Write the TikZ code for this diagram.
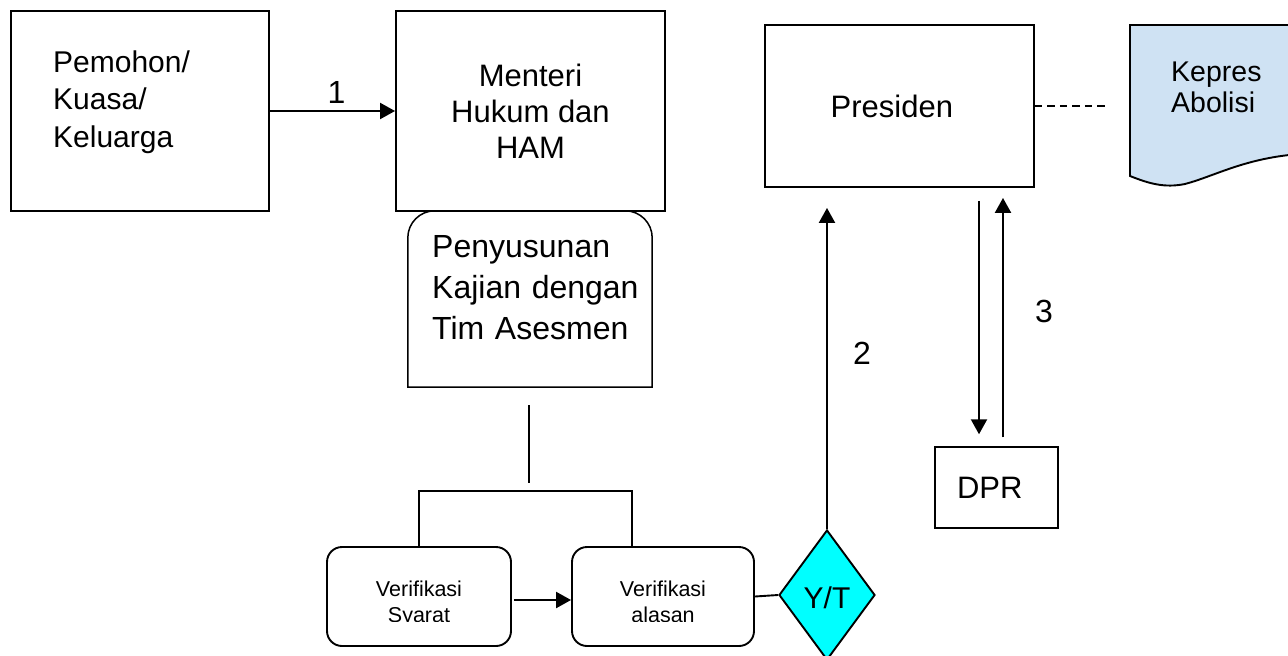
\documentclass[tikz,border=0pt]{standalone}
\usepackage{fontspec}
\setmainfont{Liberation Sans}
\usetikzlibrary{arrows.meta,shapes.geometric}
\definecolor{docblue}{RGB}{207,226,243}
\definecolor{ytcyan}{RGB}{0,255,255}
\begin{document}
\begin{tikzpicture}[x=1pt,y=-1pt,
  box/.style={draw, rectangle, line width=1.9pt, inner sep=0pt},
  vbox/.style={draw, rectangle, rounded corners=15pt, line width=1.9pt, inner sep=0pt},
  txt/.style={inner sep=0pt, text width=260pt, align=left, anchor=base west},
  conn/.style={line width=1.9pt},
  arrow/.style={line width=2.2pt, -{Triangle[length=15pt,width=16pt]}},
  num/.style={inner sep=0pt, font=\fontsize{32}{38}\selectfont},
  big/.style={font=\fontsize{31}{36}\selectfont},
  small/.style={font=\fontsize{21.5}{26}\selectfont}
]
\useasboundingbox (0,0) rectangle (1288,656);
\clip (0,0) rectangle (1288,656);

% applicant and ministry
\node[box, minimum width=258pt, minimum height=200pt] (pemohon) at (140,111) {};
\node[txt, font=\fontsize{30}{37.5}\selectfont] (pemohon-t) at (53,72) {Pemohon/\\Kuasa/\\Keluarga};
\node[box, big, minimum width=269pt, minimum height=200pt, align=center] (menteri) at (530.5,111) {Menteri\\Hukum dan\\HAM};
\draw[arrow] (pemohon) -- node[num, above=6pt, xshift=4pt] (n1) {1} (menteri);

% assessment box with rounded top corners
\node[inner sep=0pt, minimum width=244pt, minimum height=176pt] (penyus) at (530,299) {};
\draw[line width=1.5pt] (penyus.south west) -- ([yshift=-27pt]penyus.north west)
  arc[start angle=180, end angle=90, radius=27pt] -- ([xshift=-27pt]penyus.north east)
  arc[start angle=90, end angle=0, radius=27pt] -- (penyus.south east) -- cycle;
\node[txt, font=\fontsize{32}{41}\selectfont] (penyus-t) at (432,257) {Penyusunan\\Kajian dengan\\Tim Asesmen};

% fork to the two verification steps
\coordinate (fork) at (529,491);
\coordinate (brL) at (419,491);
\coordinate (brR) at (632,491);
\draw[conn, shorten <=18pt, shorten >=8pt] (penyus.south -| fork) -- (fork);

\node[vbox, minimum width=184pt, minimum height=99pt] (syarat) at (419,596.5) {};
\node[vbox, minimum width=182pt, minimum height=99pt] (alasan) at (663,596.5) {};
\draw[conn] (syarat.north) -- (brL) -- (brR) -- (brR |- alasan.north);
\begin{scope}
  \clip (300,540) rectangle (780,621.5);
  \node[small, inner sep=0pt, text width=160pt, align=center, anchor=base] (syarat-t) at (419,596) {Verifikasi\\Syarat};
  \node[small, inner sep=0pt, text width=160pt, align=center, anchor=base] (alasan-t) at (663,596) {Verifikasi\\alasan};
\end{scope}
\draw[arrow, shorten <=2pt] ([yshift=-3.5pt]syarat.east) -- ([yshift=-3.5pt]alasan.west);

% decision
\node[diamond, draw, fill=ytcyan, line width=1.9pt, inner sep=0pt, minimum width=96pt, minimum height=130pt,
      font=\fontsize{30}{36}\selectfont, text height=28pt] (yt) at (827,595) {Y/T};
\draw[conn] (alasan.east) -- (yt.west);

% president, parliament and decree
\node[box, big, minimum width=269pt, minimum height=162pt, text width=137.6pt, align=left] (presiden) at (899.5,106) {Presiden};
\draw[arrow, shorten >=20pt] (yt.north) -- (yt.north |- presiden.south);
\node[num, anchor=base] (n2) at (862,364) {2};

\node[box, big, line width=1.5pt, minimum width=123pt, minimum height=81pt, text width=79pt, align=left] (dpr) at (996.5,487.5) {DPR};
\coordinate (dx) at (979,0);
\coordinate (ux) at (1003,0);
\draw[arrow, shorten <=13pt, shorten >=12pt] (presiden.south -| dx) -- (dpr.north -| dx);
\draw[arrow, shorten <=9pt, shorten >=10pt] (dpr.north -| ux) -- (presiden.south -| ux);
\node[num, anchor=base] (n3) at (1044,322) {3};

\draw[line width=1.9pt, fill=docblue] (1300,25) -- (1130,25) -- (1130,176)
  .. controls (1150,184) and (1165,188) .. (1185,184)
  .. controls (1215,176) and (1245,158) .. (1300,154) -- cycle;
\node[txt, font=\fontsize{28.5}{31}\selectfont] (kepres) at (1171,81) {Kepres\\Abolisi};
\coordinate (dashend) at (1108,107);
\draw[line width=1.4pt, dash pattern=on 7.5pt off 5pt] (presiden.east) -- (dashend |- presiden.east);
\end{tikzpicture}
\end{document}
